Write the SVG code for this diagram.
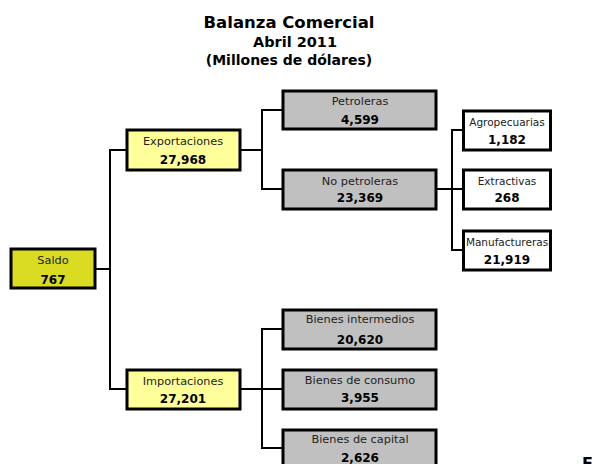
<svg xmlns="http://www.w3.org/2000/svg" width="592" height="464" viewBox="0 0 592 464">
<style>
  .t{font-family:"DejaVu Sans","Liberation Sans",sans-serif;font-weight:bold;fill:#000;text-anchor:middle}
  .box{stroke:#000;stroke-width:3}
  .lbl{font-family:"DejaVu Sans","Liberation Sans",sans-serif;font-size:11.3px;fill:#222;text-anchor:middle}
  .sm{font-size:10.5px}
  .num{font-family:"DejaVu Sans","Liberation Sans",sans-serif;font-size:12px;font-weight:bold;fill:#000;text-anchor:middle}
  .c{stroke:#000;stroke-width:2;fill:none}
  .sal{fill:#d9dc21}
  .yel{fill:#ffff99}
  .gry{fill:#c0c0c0}
  .wht{fill:#fff}
</style>
<rect width="592" height="464" fill="#fff"/>
<text class="t" x="289" y="28" font-size="16.5">Balanza Comercial</text>
<text class="t" x="295" y="47" font-size="14.5">Abril 2011</text>
<text class="t" x="289" y="65" font-size="14">(Millones de dólares)</text>

<g id="connectors">
  <polyline class="c" points="96,269 110,269"/>
  <polyline class="c" points="126,150 110,150 110,389 126,389"/>
  <polyline class="c" points="241,150 262,150"/>
  <polyline class="c" points="282,110 262,110 262,189 282,189"/>
  <polyline class="c" points="437,189 463,189"/>
  <polyline class="c" points="463,130 452,130 452,250 463,250"/>
  <polyline class="c" points="241,389 282,389"/>
  <polyline class="c" points="282,329 262,329 262,448 282,448"/>
</g>

<g id="saldo">
  <rect class="box sal" x="11" y="249" width="84" height="39"/>
  <text class="lbl" x="53" y="264">Saldo</text>
  <text class="num" x="53" y="284">767</text>
</g>
<g id="exportaciones">
  <rect class="box yel" x="127" y="130" width="113" height="40"/>
  <text class="lbl" x="183" y="145">Exportaciones</text>
  <text class="num" x="183" y="164">27,968</text>
</g>
<g id="importaciones">
  <rect class="box yel" x="127" y="370" width="113" height="39"/>
  <text class="lbl" x="183" y="385">Importaciones</text>
  <text class="num" x="183" y="403">27,201</text>
</g>
<g id="petroleras">
  <rect class="box gry" x="283" y="91" width="153" height="38"/>
  <text class="lbl" x="360" y="105">Petroleras</text>
  <text class="num" x="360" y="124">4,599</text>
</g>
<g id="no-petroleras">
  <rect class="box gry" x="283" y="170" width="153" height="39"/>
  <text class="lbl" x="360" y="185">No petroleras</text>
  <text class="num" x="360" y="202">23,369</text>
</g>
<g id="agropecuarias">
  <rect class="box wht" x="463.5" y="111" width="87" height="39"/>
  <text class="lbl sm" x="507" y="126">Agropecuarias</text>
  <text class="num" x="507" y="144">1,182</text>
</g>
<g id="extractivas">
  <rect class="box wht" x="463.5" y="170" width="87" height="39"/>
  <text class="lbl sm" x="507" y="185">Extractivas</text>
  <text class="num" x="507" y="202">268</text>
</g>
<g id="manufactureras">
  <rect class="box wht" x="463.5" y="231" width="87" height="39"/>
  <text class="lbl sm" x="507" y="246">Manufactureras</text>
  <text class="num" x="507" y="264">21,919</text>
</g>
<g id="bienes-intermedios">
  <rect class="box gry" x="283" y="310" width="153" height="39"/>
  <text class="lbl" x="360" y="323">Bienes intermedios</text>
  <text class="num" x="360" y="344">20,620</text>
</g>
<g id="bienes-consumo">
  <rect class="box gry" x="283" y="370" width="153" height="39"/>
  <text class="lbl" x="360" y="384">Bienes de consumo</text>
  <text class="num" x="360" y="402">3,955</text>
</g>
<g id="bienes-capital">
  <rect class="box gry" x="283" y="430" width="153" height="39"/>
  <text class="lbl" x="360" y="443">Bienes de capital</text>
  <text class="num" x="360" y="462">2,626</text>
</g>
<text class="t" x="582" y="469" font-size="16" style="text-anchor:start">F</text>
</svg>
